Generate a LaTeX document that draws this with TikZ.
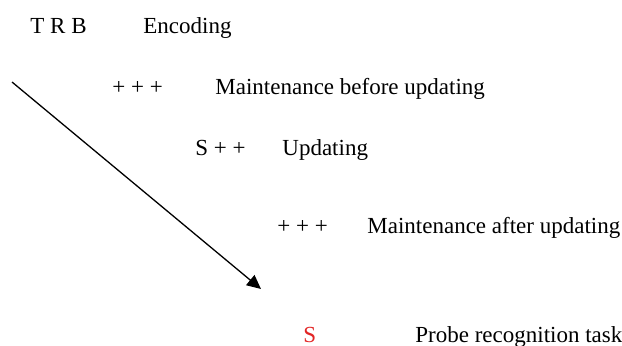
\documentclass[tikz,border=0pt]{standalone}
\usepackage{fontspec}
\setmainfont{Liberation Serif}
\usepackage{tikz}
\usetikzlibrary{arrows.meta}
\definecolor{probered}{RGB}{226,36,36}

\begin{document}
\begin{tikzpicture}[x=0.5pt,y=-0.5pt,
		lbl/.style={anchor=base west,inner sep=0pt,font=\fontsize{11.5}{13}\selectfont}]
		\useasboundingbox (0,0) rectangle (622,345);
		\node [lbl] (trb) at (30,33) {T R B};
		\node [lbl] (enc) at (143,33) {Encoding};
		\node [lbl] (pa) at (112,94) {+ + +};
		\node [lbl] (mb) at (215,94) {Maintenance before updating};
		\node [lbl] (spp) at (195,155) {S + +};
		\node [lbl] (upd) at (282,155) {Updating};
		\node [lbl] (pb) at (277,233) {+ + +};
		\node [lbl] (ma) at (367,233) {Maintenance after updating};
		\node [lbl,text=probered] (probe) at (303,342) {S};
		\node [lbl] (prt) at (415,342) {Probe recognition task};
		\coordinate (top) at (12,82);
		\coordinate (tip) at (261,289);
		\draw [black,line width=0.65pt,-{Triangle[length=7pt,width=6.5pt]}] (top) -- (tip);
	\end{tikzpicture}
\end{document}
